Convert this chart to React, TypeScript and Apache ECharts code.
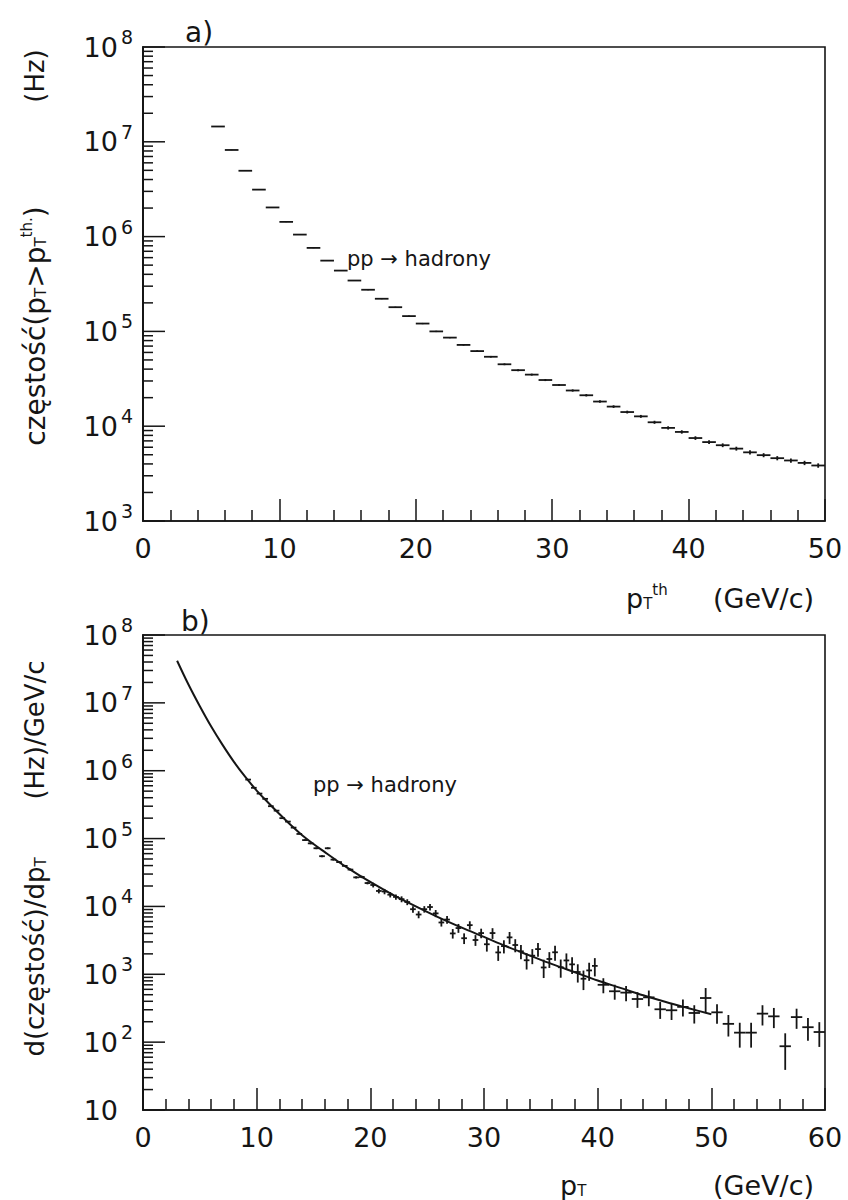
import React, { useEffect, useRef } from "react";
import * as echarts from "echarts";

// (a) integrated rate above threshold, 1 GeV/c bins
const thresholdPt = [
  5.5, 6.5, 7.5, 8.5, 9.5, 10.5, 11.5, 12.5, 13.5, 14.5, 15.5, 16.5, 17.5, 18.5, 19.5,
  20.5, 21.5, 22.5, 23.5, 24.5, 25.5, 26.5, 27.5, 28.5, 29.5, 30.5, 31.5, 32.5, 33.5, 34.5,
  35.5, 36.5, 37.5, 38.5, 39.5, 40.5, 41.5, 42.5, 43.5, 44.5, 45.5, 46.5, 47.5, 48.5, 49.5,
];
const rate = [
  1.45e7, 8.2e6, 4.95e6, 3.13e6, 2.03e6, 1.43e6, 1.05e6, 7.6e5, 5.58e5, 4.38e5, 3.44e5, 2.75e5, 2.21e5, 1.8e5, 1.45e5,
  1.21e5, 1.0e5, 8.6e4, 7.2e4, 6.2e4, 5.4e4, 4.5e4, 3.9e4, 3.5e4, 3.07e4, 2.72e4, 2.38e4, 2.12e4, 1.82e4, 1.61e4,
  1.41e4, 1.27e4, 1.1e4, 9.6e3, 8.7e3, 7.5e3, 6.8e3, 6.3e3, 5.8e3, 5.3e3, 4.95e3, 4.6e3, 4.35e3, 4.1e3, 3.85e3,
];
const rateErr = [
  7e4, 4e4, 2.6e4, 1.7e4, 1.2e4, 9e3, 7e3, 5.5e3, 4.5e3, 3.8e3, 3.2e3, 2.9e3, 2.5e3, 2.2e3, 2.0e3,
  1.8e3, 1.6e3, 1.45e3, 1.3e3, 1.2e3, 1.1e3, 1.0e3, 900, 840, 780, 720, 660, 610, 560, 520,
  480, 450, 410, 380, 360, 330, 310, 290, 275, 260, 245, 235, 225, 215, 205,
];

// (b) differential spectrum: 0.5 GeV/c bins below 40, 1 GeV/c bins above
const spectrumPt = [
  9.25, 9.75, 10.25, 10.75, 11.25, 11.75, 12.25, 12.75, 13.25, 13.75,
  14.25, 14.75, 15.25, 15.75, 16.25, 16.75, 17.25, 17.75, 18.25, 18.75, 19.25, 19.75,
  20.25, 20.75, 21.25, 21.75, 22.25, 22.75, 23.25, 23.75, 24.25, 24.75,
  25.25, 25.75, 26.25, 26.75, 27.25, 27.75, 28.25, 28.75, 29.25, 29.75,
  30.25, 30.75, 31.25, 31.75, 32.25, 32.75, 33.25, 33.75, 34.25, 34.75,
  35.25, 35.75, 36.25, 36.75, 37.25, 37.75, 38.25, 38.75, 39.25, 39.75,
  40.5, 41.5, 42.5, 43.5, 44.5, 45.5, 46.5, 47.5, 48.5, 49.5,
  50.5, 51.5, 52.5, 53.5, 54.5, 55.5, 56.5, 57.5, 58.5, 59.5,
];
const spectrum = [
  7.4e5, 5.6e5, 4.6e5, 3.85e5, 3.0e5, 2.58e5, 2.0e5, 1.78e5, 1.45e5, 1.17e5,
  9.5e4, 8.5e4, 7.2e4, 5.5e4, 7.2e4, 4.9e4, 4.5e4, 3.96e4, 3.49e4, 2.68e4, 2.72e4, 2.21e4,
  2.07e4, 1.69e4, 1.66e4, 1.49e4, 1.38e4, 1.28e4, 1.16e4, 9.1e3, 7.6e3, 9.1e3,
  9.8e3, 7.9e3, 5.8e3, 6.4e3, 4.0e3, 4.8e3, 3.4e3, 5.3e3, 3.2e3, 4.05e3,
  2.77e3, 4.05e3, 2.1e3, 2.6e3, 3.5e3, 2.7e3, 2.18e3, 1.61e3, 1.88e3, 2.35e3,
  1.26e3, 1.68e3, 2.11e3, 1.27e3, 1.6e3, 1.4e3, 1.08e3, 860, 1.14e3, 1.33e3,
  700, 562, 537, 432, 457, 305, 295, 331, 269, 447,
  275, 186, 138, 138, 263, 240, 87, 234, 166, 141,
];
const spectrumErr = [
  7400, 5600, 4600, 3900, 3000, 2600, 2000, 1800, 1500, 1200,
  2900, 2600, 2200, 1800, 2300, 1600, 1500, 1300, 1200, 1000, 1100, 950,
  1650, 1350, 1500, 1340, 1240, 1280, 1160, 1000, 910, 1000,
  1080, 950, 750, 830, 640, 720, 610, 740, 580, 650,
  610, 730, 525, 570, 700, 590, 520, 435, 470, 540,
  380, 440, 530, 380, 430, 390, 325, 275, 340, 400,
  175, 140, 135, 112, 119, 85, 83, 93, 81, 180,
  88, 65, 55, 55, 87, 79, 48, 77, 61, 56,
];

// fitted curve through the spectrum
const fitPt = [3, 4, 5, 6, 7, 8, 9, 10, 11, 12, 13, 14, 15, 16, 17, 18, 19, 20, 22, 24, 26, 28, 30, 32, 34, 36, 38, 40, 42, 44, 46, 48, 50];
const fitValue = [
  4.17e7, 1.86e7, 8.9e6, 4.47e6, 2.4e6, 1.35e6, 8.1e5, 5.1e5, 3.4e5, 2.3e5, 1.58e5, 1.12e5, 8.3e4, 6.3e4, 4.8e4, 3.7e4, 2.9e4,
  2.3e4, 1.48e4, 1.0e4, 6.9e3, 4.9e3, 3.55e3, 2.57e3, 1.9e3, 1.41e3, 1.07e3, 810, 630, 490, 390, 316, 257,
];

// decade exponents covered by each panel's vertical axis
const decadesA = [3, 4, 5, 6, 7, 8];
const decadesB = [1, 2, 3, 4, 5, 6, 7, 8];

const INK = "#151515";
const FONT = "DejaVu Sans";

// graduation of a log axis: [value, 1 for a decade / 0 for the 2..9 marks]
function logGraduation(decades: number[]): number[][] {
  const out: number[][] = [];
  decades.forEach((d, i) => {
    const base = Math.pow(10, d);
    out.push([base, 1]);
    if (i < decades.length - 1) for (let m = 2; m <= 9; m++) out.push([base * m, 0]);
  });
  return out;
}

// label for an axis graduated in decades: 10 with the exponent raised
const powerLabel = (e: number) => (e === 1 ? "{b|10}{e| }" : `{b|10}{s|${e}}`);

const labelRich = {
  b: { fontSize: 27, fontFamily: FONT, color: INK },
  s: { fontSize: 19, fontFamily: FONT, color: INK, padding: [0, 0, 20, 3] },
  e: { fontSize: 19, fontFamily: FONT, color: INK, width: 12, padding: [0, 0, 20, 3] },
};

const tickLine = { color: INK, width: 1.5 };
const frameLine = { color: INK, width: 1.6 };

function xAxisOf(gridIndex: number, max: number) {
  return {
    type: "value",
    gridIndex,
    min: 0,
    max,
    interval: 10,
    axisLine: { show: true, lineStyle: frameLine },
    axisTick: { show: true, inside: true, length: 22, lineStyle: tickLine },
    minorTick: { show: true, splitNumber: 5, length: 11, lineStyle: tickLine },
    axisLabel: { margin: 14, fontSize: 27, fontFamily: FONT, color: INK },
    splitLine: { show: false },
    minorSplitLine: { show: false },
  };
}

function yAxesOf(gridIndex: number, decades: number[]) {
  const lo = decades[0];
  const hi = decades[decades.length - 1];
  return [
    // data axis (logarithmic) that the series are plotted against
    {
      type: "log",
      logBase: 10,
      gridIndex,
      min: Math.pow(10, lo),
      max: Math.pow(10, hi),
      splitNumber: hi - lo,
      position: "left",
      axisLine: { show: true, lineStyle: frameLine },
      axisTick: { show: false },
      axisLabel: { show: false },
      splitLine: { show: false },
    },
    // the same range in decade units, carrying the 10^n labels
    {
      type: "value",
      gridIndex,
      min: lo,
      max: hi,
      interval: 1,
      position: "left",
      axisLine: { show: true, lineStyle: frameLine },
      axisTick: { show: false },
      axisLabel: { show: true, margin: 10, formatter: powerLabel, rich: labelRich },
      splitLine: { show: false },
    },
  ];
}

function crossItem(halfWidth: (x: number) => number) {
  return (_params: any, api: any) => {
    const x = api.value(0);
    const y = api.value(1);
    const e = api.value(2);
    const hw = halfWidth(x);
    const l = api.coord([x - hw, y]);
    const r = api.coord([x + hw, y]);
    const t = api.coord([x, y + e]);
    const b = api.coord([x, Math.max(y - e, 1e-3)]);
    const style = { stroke: INK, lineWidth: 1.8 };
    return {
      type: "group",
      children: [
        { type: "line", shape: { x1: l[0], y1: l[1], x2: r[0], y2: r[1] }, style },
        { type: "line", shape: { x1: t[0], y1: t[1], x2: b[0], y2: b[1] }, style },
      ],
    };
  };
}

const textStyle = (size: number) => ({ fontSize: size, fontFamily: FONT, fill: INK });
const richSmall = {
  sub: { fontSize: 15, fontFamily: FONT, fill: INK, padding: [12, 0, 0, 0] },
  sup: { fontSize: 15, fontFamily: FONT, fill: INK, padding: [0, 0, 16, 0] },
};

const titles: any[] = [
  { type: "text", x: 185, y: 32, style: { ...textStyle(28), text: "a)", verticalAlign: "middle" } },
  { type: "text", x: 181, y: 621, style: { ...textStyle(28), text: "b)", verticalAlign: "middle" } },
  { type: "text", x: 347, y: 259, style: { ...textStyle(21), text: "pp → hadrony", verticalAlign: "middle" } },
  { type: "text", x: 313, y: 785, style: { ...textStyle(21), text: "pp → hadrony", verticalAlign: "middle" } },
  {
    type: "text",
    x: 35,
    y: 326,
    rotation: Math.PI / 2,
    style: {
      ...textStyle(28),
      text: "częstość(p{sub|T}>p{sub|T}{sup|th.})",
      rich: richSmall,
      align: "center",
      verticalAlign: "middle",
    },
  },
  {
    type: "text",
    x: 35,
    y: 76,
    rotation: Math.PI / 2,
    style: { ...textStyle(26), text: "(Hz)", align: "center", verticalAlign: "middle" },
  },
  {
    type: "text",
    x: 35,
    y: 957,
    rotation: Math.PI / 2,
    style: { ...textStyle(26), text: "d(częstość)/dp{sub|T}", rich: richSmall, align: "center", verticalAlign: "middle" },
  },
  {
    type: "text",
    x: 35,
    y: 730,
    rotation: Math.PI / 2,
    style: { ...textStyle(26), text: "(Hz)/GeV/c", align: "center", verticalAlign: "middle" },
  },
  { type: "text", x: 626, y: 598, style: { ...textStyle(27), text: "p{sub|T}{sup|th}", rich: richSmall, verticalAlign: "middle" } },
  { type: "text", x: 713, y: 598, style: { ...textStyle(27), text: "(GeV/c)", verticalAlign: "middle" } },
  { type: "text", x: 560, y: 1185, style: { ...textStyle(27), text: "p{sub|T}", rich: richSmall, verticalAlign: "middle" } },
  { type: "text", x: 713, y: 1185, style: { ...textStyle(27), text: "(GeV/c)", verticalAlign: "middle" } },
];

export default function App() {
  const ref = useRef<HTMLDivElement>(null);

  useEffect(() => {
    document.body.style.margin = "0";
    if (!ref.current) return;
    const chart = echarts.init(ref.current, undefined, { renderer: "svg" });

    const option: any = {
      animation: false,
      backgroundColor: "#ffffff",
      grid: [
        { left: 143, top: 47, width: 682, height: 474, show: true, borderColor: INK, borderWidth: 1.6 },
        { left: 143, top: 635, width: 682, height: 475, show: true, borderColor: INK, borderWidth: 1.6 },
      ],
      xAxis: [xAxisOf(0, 50), xAxisOf(1, 60)],
      yAxis: [...yAxesOf(0, decadesA), ...yAxesOf(1, decadesB)],
      series: [
        {
          type: "custom",
          xAxisIndex: 0,
          yAxisIndex: 0,
          encode: { x: 0, y: 1 },
          data: thresholdPt.map((x, i) => [x, rate[i], rateErr[i]]),
          renderItem: crossItem(() => 0.5),
        },
        {
          type: "custom",
          xAxisIndex: 1,
          yAxisIndex: 2,
          encode: { x: 0, y: 1 },
          data: spectrumPt.map((x, i) => [x, spectrum[i], spectrumErr[i]]),
          renderItem: crossItem((x) => (x < 40 ? 0.25 : 0.5)),
        },
        {
          type: "line",
          xAxisIndex: 1,
          yAxisIndex: 2,
          data: fitPt.map((x, i) => [x, fitValue[i]]),
          smooth: 0.35,
          showSymbol: false,
          lineStyle: { color: INK, width: 2 },
        },
      ],
      graphic: titles,
    };

    chart.setOption(option);

    // inward graduation marks on the left edge of both log axes,
    // placed through the axes' own value-to-pixel conversion
    const marks: any[] = [];
    const addMarks = (xAxisIndex: number, yAxisIndex: number, decades: number[]) => {
      logGraduation(decades).forEach(([v, major]) => {
        const p = chart.convertToPixel({ xAxisIndex, yAxisIndex }, [0, v]) as number[];
        if (!p || isNaN(p[0]) || isNaN(p[1])) return;
        marks.push({
          type: "line",
          z: 100,
          silent: true,
          shape: { x1: p[0], y1: p[1], x2: p[0] + (major ? 22 : 10), y2: p[1] },
          style: { stroke: INK, lineWidth: 1.5 },
        });
      });
    };
    addMarks(0, 0, decadesA);
    addMarks(1, 2, decadesB);
    chart.setOption({ graphic: [...titles, ...marks] });

    return () => chart.dispose();
  }, []);

  return <div ref={ref} style={{ width: 848, height: 1200 }} />;
}
